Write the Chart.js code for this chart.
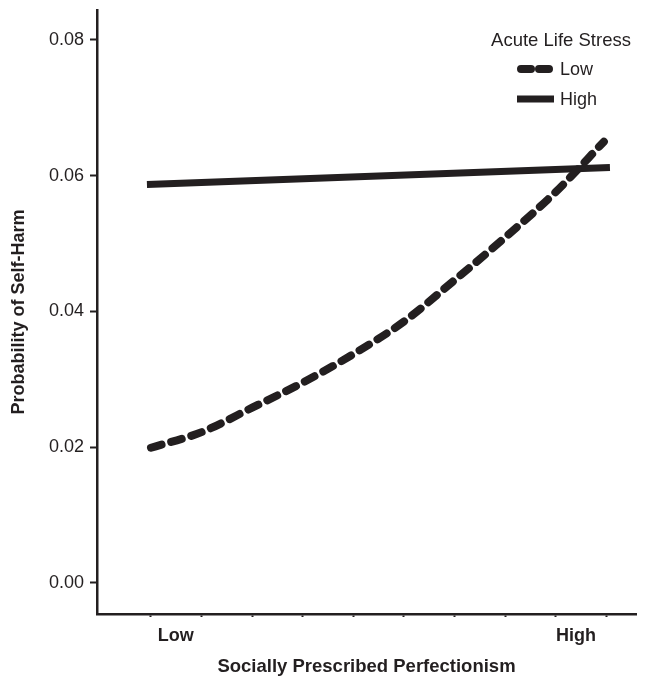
<!DOCTYPE html>
<html>
<head>
<meta charset="utf-8">
<script src="https://cdn.jsdelivr.net/npm/chart.js@4.4.1/dist/chart.umd.min.js"></script>
<style>
  html, body { margin: 0; padding: 0; background: #ffffff; }
  #wrap { width: 655px; height: 680px; }
</style>
</head>
<body>
<div id="wrap"><canvas id="c" width="655" height="680"></canvas></div>
<script>
// ---- data ----
const legendTitle = 'Acute Life Stress';
const seriesNames = ['Low', 'High'];
const lowX = [0, 1, 2, 3, 4, 5, 6, 7, 8, 8.95];
const lowY = [0.0199, 0.0222, 0.0258, 0.0295, 0.0337, 0.0385, 0.0446, 0.0509, 0.0576, 0.0650];
const highX = [-0.08, 9.07];
const highY = [0.0587, 0.0612];
const xMinorTicks = [0, 1, 2, 3, 4, 5, 6, 7, 8, 9];
const xCategoryLabels = ['Low', 'High'];
const xCategoryPositions = [0.49, 8.4];
const yTicks = [0, 0.02, 0.04, 0.06, 0.08];
const xTitle = 'Socially Prescribed Perfectionism';
const yTitle = 'Probability of Self-Harm';

const INK = '#231f20';
const FONT = "'Liberation Sans', Arial, Helvetica, sans-serif";

const toPts = (xs, ys) => xs.map((x, i) => ({ x: x, y: ys[i] }));

const legendPlugin = {
  id: 'insideLegend',
  afterDatasetsDraw(chart) {
    const ctx = chart.ctx;
    ctx.save();
    ctx.fillStyle = INK;
    ctx.font = '18.5px ' + FONT;
    ctx.textAlign = 'center';
    ctx.textBaseline = 'middle';
    ctx.fillText(legendTitle, 561, 41);
    ctx.font = '18px ' + FONT;
    const rows = [69, 99];
    chart.data.datasets.forEach((ds, i) => {
      const y = rows[i];
      ctx.beginPath();
      ctx.strokeStyle = ds.borderColor;
      ctx.lineWidth = ds.borderWidth;
      ctx.lineCap = ds.borderCapStyle || 'butt';
      if (ds.borderDash && ds.borderDash.length) {
        ctx.setLineDash([10, 8]);
        ctx.moveTo(521, y);
        ctx.lineTo(550, y);
      } else {
        ctx.setLineDash([]);
        ctx.moveTo(517, y);
        ctx.lineTo(554, y);
      }
      ctx.stroke();
      ctx.setLineDash([]);
      ctx.textAlign = 'left';
      ctx.fillText(ds.label, 560, y + 1);
    });
    ctx.restore();
  }
};

const whiteBg = {
  id: 'whiteBg',
  beforeDraw(chart) {
    const ctx = chart.ctx;
    ctx.save();
    ctx.fillStyle = '#ffffff';
    ctx.fillRect(0, 0, chart.width, chart.height);
    ctx.restore();
  }
};

new Chart(document.getElementById('c'), {
  type: 'line',
  data: {
    datasets: [
      {
        label: seriesNames[0],
        data: toPts(lowX, lowY),
        borderColor: INK,
        borderWidth: 8,
        borderDash: [11, 10],
        borderCapStyle: 'round',
        cubicInterpolationMode: 'monotone',
        pointRadius: 0,
        fill: false
      },
      {
        label: seriesNames[1],
        data: toPts(highX, highY),
        borderColor: INK,
        borderWidth: 7,
        borderCapStyle: 'butt',
        pointRadius: 0,
        fill: false
      }
    ]
  },
  options: {
    responsive: false,
    devicePixelRatio: 1,
    animation: false,
    layout: { padding: { top: 10, right: 19, left: 0, bottom: 0 } },
    plugins: { legend: { display: false }, tooltip: { enabled: false } },
    scales: {
      x: {
        type: 'linear',
        min: -1.067,
        max: 9.585,
        afterBuildTicks(scale) {
          const vals = xMinorTicks.concat(xCategoryPositions).sort((a, b) => a - b);
          scale.ticks = vals.map(v => ({ value: v }));
        },
        afterFit(scale) {
          scale.height = 66;
          scale.paddingLeft = 0;
          scale.paddingRight = 0;
        },
        ticks: {
          autoSkip: false,
          maxRotation: 0,
          padding: 8,
          color: INK,
          font: { family: FONT, size: 18, weight: 'bold' },
          callback(value) {
            const idx = xCategoryPositions.indexOf(value);
            return idx >= 0 ? xCategoryLabels[idx] : '';
          }
        },
        grid: {
          display: true,
          drawOnChartArea: false,
          drawTicks: true,
          tickLength: 3,
          tickWidth: 2,
          tickColor(ctx) {
            const v = ctx.tick ? ctx.tick.value : null;
            return xCategoryPositions.indexOf(v) >= 0 ? 'rgba(0,0,0,0)' : INK;
          }
        },
        border: { display: true, color: INK, width: 2.5 },
        title: {
          display: true,
          text: xTitle,
          color: INK,
          font: { family: FONT, size: 18.5, weight: 'bold' },
          padding: { top: 0, bottom: 2 }
        }
      },
      y: {
        type: 'linear',
        min: -0.0046,
        max: 0.0844,
        afterBuildTicks(scale) {
          scale.ticks = yTicks.map(v => ({ value: v }));
        },
        afterFit(scale) {
          scale.width = 97;
          scale.paddingTop = 0;
          scale.paddingBottom = 0;
        },
        ticks: {
          padding: 6,
          color: INK,
          font: { family: FONT, size: 18 },
          callback(value) { return Number(value).toFixed(2); }
        },
        grid: {
          display: true,
          drawOnChartArea: false,
          drawTicks: true,
          tickLength: 7,
          tickWidth: 2,
          tickColor: INK
        },
        border: { display: true, color: INK, width: 2.5 },
        title: {
          display: true,
          text: yTitle,
          color: INK,
          font: { family: FONT, size: 18, weight: 'bold' },
          padding: { top: 8, bottom: 0 }
        }
      }
    }
  },
  plugins: [whiteBg, legendPlugin]
});
</script>
</body>
</html>
